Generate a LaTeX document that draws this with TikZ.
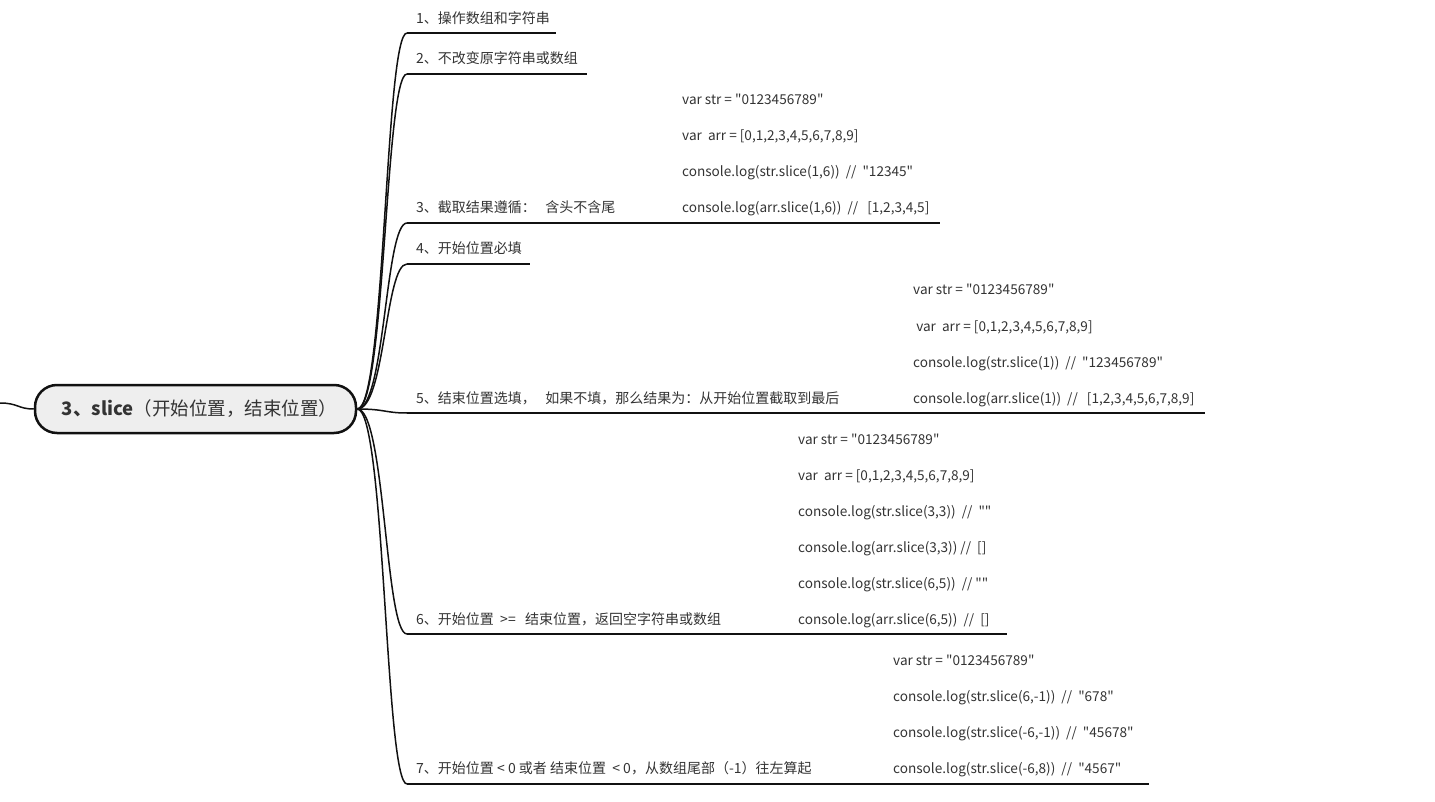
\documentclass[tikz,border=0pt]{standalone}
\usepackage{fontspec}
\setmainfont{Noto Sans CJK SC}
\definecolor{txt}{HTML}{333333}
\definecolor{ln}{HTML}{111111}
\definecolor{rootfill}{HTML}{EEEEEE}
\newcommand{\q}{\textquotedbl}
\begin{document}
\begin{tikzpicture}[x=1pt,y=-1pt,
  lbl/.style={anchor=base west, inner sep=0pt, text=txt, font=\fontsize{14}{15}\selectfont},
  codeline/.style={anchor=base west, inner sep=0pt, text=txt, font=\fontsize{13.6}{15}\selectfont},
  branch/.style={line width=1.5pt, draw=ln},
  uline/.style={line width=2pt, draw=ln},
  rootbox/.style={draw=ln, line width=2.5pt, fill=rootfill, rounded corners=22pt,
    minimum width=321pt, minimum height=48pt, inner sep=0pt, text=txt,
    font=\fontsize{18.5}{20}\selectfont}]
\useasboundingbox (0,0) rectangle (1435,802);

\node[rootbox] (root) at (195.5,409) {\hspace*{8pt}\textbf{3、slice}（开始位置，结束位置）};
\coordinate (lft) at (0,403);
\draw[branch] (lft) .. controls (18,403) and (18,409) .. (root.west);

% child 1
\coordinate (s1) at (407,33); \coordinate (e1) at (556,33);
\node[lbl] (t1) at (416,24) {1、操作数组和字符串};
% child 2
\coordinate (s2) at (407,74); \coordinate (e2) at (587,74);
\node[lbl] (t2) at (416,64) {2、不改变原字符串或数组};
% child 3
\coordinate (s3) at (407,223); \coordinate (e3) at (940,223);
\node[lbl] (t3) at (416,213) {3、截取结果遵循：~~~含头不含尾};
\node[codeline] (c3a) at (682,105) {var str = \q0123456789\q};
\node[codeline] (c3b) at (682,141) {var~~arr = [0,1,2,3,4,5,6,7,8,9]};
\node[codeline] (c3c) at (682,177) {console.log(str.slice(1,6))~~//~~\q12345\q};
\node[codeline] (c3d) at (682,213) {console.log(arr.slice(1,6))~~//~~~[1,2,3,4,5]};
% child 4
\coordinate (s4) at (407,264); \coordinate (e4) at (530,264);
\node[lbl] (t4) at (416,254) {4、开始位置必填};
% child 5
\coordinate (s5) at (407,413); \coordinate (e5) at (1205,413);
\node[lbl] (t5) at (416,403) {5、结束位置选填，~~~如果不填，那么结果为：从开始位置截取到最后};
\node[codeline] (c5a) at (913,295) {var str = \q0123456789\q};
\node[codeline] (c5b) at (913,331) {~var~~arr = [0,1,2,3,4,5,6,7,8,9]};
\node[codeline] (c5c) at (913,367) {console.log(str.slice(1))~~//~~\q123456789\q};
\node[codeline] (c5d) at (913,403) {console.log(arr.slice(1))~~//~~~[1,2,3,4,5,6,7,8,9]};
% child 6
\coordinate (s6) at (407,634); \coordinate (e6) at (1007,634);
\node[lbl] (t6) at (416,624) {6、开始位置~~>=~~~结束位置，返回空字符串或数组};
\node[codeline] (c6a) at (798,444) {var str = \q0123456789\q};
\node[codeline] (c6b) at (798,480) {var~~arr = [0,1,2,3,4,5,6,7,8,9]};
\node[codeline] (c6c) at (798,516) {console.log(str.slice(3,3))~~//~~\q\q};
\node[codeline] (c6d) at (798,552) {console.log(arr.slice(3,3)) //~~[]};
\node[codeline] (c6e) at (798,588) {console.log(str.slice(6,5))~~// \q\q};
\node[codeline] (c6f) at (798,624) {console.log(arr.slice(6,5))~~//~~[]};
% child 7
\coordinate (s7) at (407,784); \coordinate (e7) at (1149,784);
\node[lbl] (t7) at (416,773) {7、开始位置 < 0 或者 结束位置~~< 0，从数组尾部（-1）往左算起};
\node[codeline] (c7a) at (893,665) {var str = \q0123456789\q};
\node[codeline] (c7b) at (893,701) {console.log(str.slice(6,-1))~~//~~\q678\q};
\node[codeline] (c7c) at (893,737) {console.log(str.slice(-6,-1))~~//~~\q45678\q};
\node[codeline] (c7d) at (893,773) {console.log(str.slice(-6,8))~~//~~\q4567\q};

\foreach \i in {1,...,7}{
  \draw[branch] (root.east) .. controls +(28,0) and +(-22,0) .. (s\i);
}
\foreach \i in {1,...,7}{
  \draw[uline] (s\i) -- (e\i);
}
\end{tikzpicture}
\end{document}
